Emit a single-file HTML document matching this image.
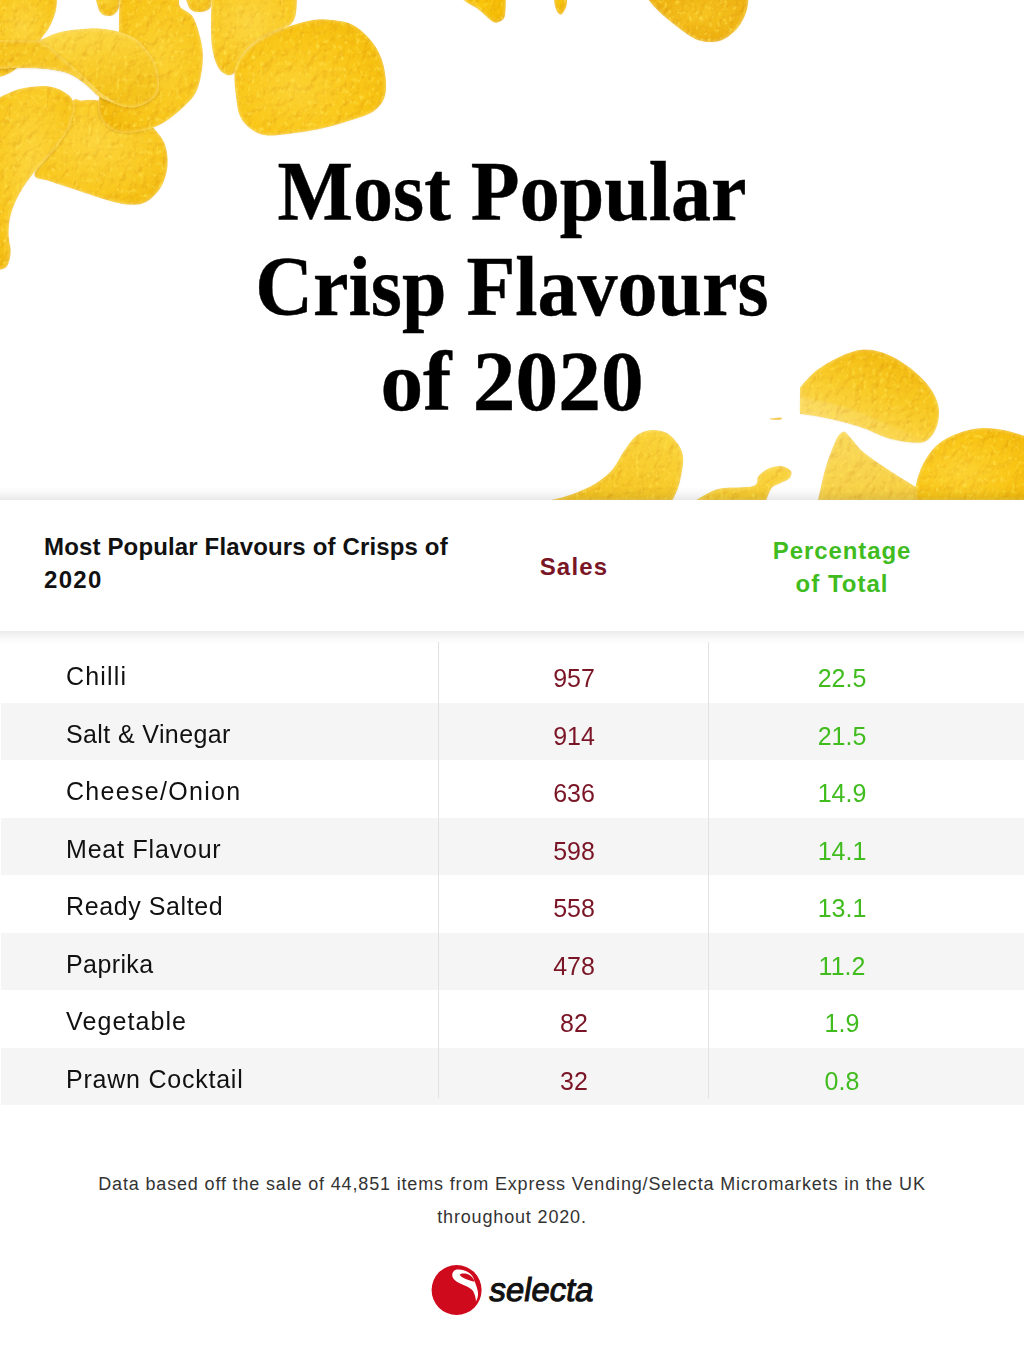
<!DOCTYPE html>
<html lang="en">
<head>
<meta charset="utf-8">
<title>Most Popular Crisp Flavours of 2020</title>
<style>
html,body{margin:0;padding:0;background:#fff;}
body{width:1024px;height:1365px;position:relative;overflow:hidden;font-family:"Liberation Sans",sans-serif;}
.hero{position:absolute;left:0;top:0;width:1024px;height:500px;overflow:hidden;}
.hero svg{position:absolute;left:0;top:0;}
h1{position:absolute;left:0;top:0;width:1024px;margin:0;text-align:center;font-family:"Liberation Serif",serif;font-weight:bold;color:#000;-webkit-text-stroke:0.4px #000;}
h1 span{position:absolute;left:0;width:1024px;text-align:center;white-space:nowrap;}
.shadow-top{position:absolute;left:0;top:487px;width:1024px;height:13px;background:linear-gradient(rgba(0,0,0,0),rgba(0,0,0,0.025) 40%,rgba(0,0,0,0.085));}
.shadow-bot{position:absolute;left:0;top:631px;width:1024px;height:13px;background:linear-gradient(rgba(0,0,0,0.075),rgba(0,0,0,0.025) 60%,rgba(0,0,0,0));}
.thead{position:absolute;left:0;top:500px;width:1024px;height:131px;background:#fff;}
.th1{position:absolute;left:44px;top:530px;letter-spacing:0.15px;font-weight:bold;font-size:24px;line-height:33px;color:#111;width:440px;}
.th2{position:absolute;left:474px;width:200px;top:550px;text-align:center;font-weight:bold;font-size:24px;line-height:33px;color:#7a1526;}
.th3{position:absolute;left:742px;width:200px;top:534px;text-align:center;font-weight:bold;font-size:24px;line-height:33px;color:#40bc1e;}
.row{position:absolute;left:1px;width:1023px;height:57.5px;}
.row.g{background:#f5f5f5;}
.row div{position:absolute;top:3px;line-height:57.5px;font-size:25px;}
.c1{left:65px;color:#111;}
.c2{margin-top:2px;left:473px;width:200px;text-align:center;color:#7a1526;}
.c3{margin-top:2px;left:741px;width:200px;text-align:center;color:#40bc1e;}
.vl{position:absolute;top:642px;width:1px;height:456px;background:#e2e2e2;}
.foot{position:absolute;left:0;width:1024px;text-align:center;font-size:18px;letter-spacing:0.84px;color:#333;line-height:33px;}
.logo{position:absolute;left:430px;top:1264px;}
</style>
</head>
<body>
<div class="hero">
<svg width="1024" height="500" viewBox="0 0 1024 500">
<defs>
<radialGradient id="g1" cx="45%" cy="40%" r="70%"><stop offset="0" stop-color="#fcd53c"/><stop offset="0.65" stop-color="#f9c920"/><stop offset="1" stop-color="#f3bc10"/></radialGradient>
<radialGradient id="g2" cx="50%" cy="30%" r="70%"><stop offset="0" stop-color="#fad02e"/><stop offset="1" stop-color="#f1b90e"/></radialGradient>
<radialGradient id="g3" cx="45%" cy="35%" r="75%"><stop offset="0" stop-color="#fcd640"/><stop offset="0.7" stop-color="#f9ca22"/><stop offset="1" stop-color="#f4c016"/></radialGradient>
<radialGradient id="g4" cx="60%" cy="45%" r="70%"><stop offset="0" stop-color="#fbd232"/><stop offset="0.7" stop-color="#f8c518"/><stop offset="1" stop-color="#f2b90a"/></radialGradient>
<linearGradient id="g5" x1="0" y1="0.2" x2="0.3" y2="1"><stop offset="0" stop-color="#fcd946"/><stop offset="0.5" stop-color="#f9cd2c"/><stop offset="1" stop-color="#f5c41c"/></linearGradient>
<radialGradient id="g6" cx="40%" cy="60%" r="75%"><stop offset="0" stop-color="#fcd232"/><stop offset="0.6" stop-color="#f9c616"/><stop offset="1" stop-color="#f3ba0a"/></radialGradient>
<radialGradient id="g7" cx="55%" cy="40%" r="70%"><stop offset="0" stop-color="#f7c520"/><stop offset="1" stop-color="#eaa90a"/></radialGradient>
<linearGradient id="g8" x1="0.2" y1="0.8" x2="0.7" y2="0"><stop offset="0" stop-color="#fbd850"/><stop offset="0.5" stop-color="#f8ca24"/><stop offset="1" stop-color="#f2b90c"/></linearGradient>
<linearGradient id="g9" x1="0.7" y1="0" x2="0.2" y2="1"><stop offset="0" stop-color="#fad43a"/><stop offset="1" stop-color="#f5c420"/></linearGradient>
<linearGradient id="g11" x1="0" y1="0" x2="1" y2="0.3"><stop offset="0" stop-color="#f6c41c"/><stop offset="1" stop-color="#f9cd2e"/></linearGradient>
<radialGradient id="g12" cx="50%" cy="40%" r="70%"><stop offset="0" stop-color="#fac80e"/><stop offset="1" stop-color="#f0b400"/></radialGradient>
<linearGradient id="g13" x1="0" y1="0" x2="1" y2="0"><stop offset="0" stop-color="#fce27a"/><stop offset="1" stop-color="#f9d24a"/></linearGradient>
<linearGradient id="g14" x1="0" y1="0" x2="0.4" y2="1"><stop offset="0" stop-color="#fadb5e"/><stop offset="1" stop-color="#f7d044"/></linearGradient>
<linearGradient id="g10" x1="0" y1="0" x2="0.3" y2="1"><stop offset="0" stop-color="#fbd84c"/><stop offset="1" stop-color="#f7cc2e"/></linearGradient>
<filter id="tex" x="0" y="0" width="1024" height="500" filterUnits="userSpaceOnUse" color-interpolation-filters="sRGB">
<feTurbulence type="fractalNoise" baseFrequency="0.12 0.09" numOctaves="3" seed="5" result="n"/>
<feDiffuseLighting in="n" lighting-color="#ffffff" surfaceScale="1.5" result="L"><feDistantLight azimuth="235" elevation="58"/></feDiffuseLighting>
<feColorMatrix in="L" type="matrix" values="0.2 0 0 0 0.83  0 0.42 0 0 0.64  0 0 0.9 0 0.25  0 0 0 0 1" result="M"/>
<feComposite in="M" in2="SourceGraphic" operator="arithmetic" k1="1" k2="0" k3="0" k4="0" result="lit"/>
<feTurbulence type="fractalNoise" baseFrequency="0.25 0.18" numOctaves="2" seed="11" result="n2"/>
<feColorMatrix in="n2" type="matrix" values="0 0 0 0 1  0 0 0 0 0.9  0 0 0 0 0.32  2.2 0 0 0 -1.25" result="hl"/>
<feMerge result="m"><feMergeNode in="lit"/><feMergeNode in="hl"/></feMerge>
<feComposite in="m" in2="SourceGraphic" operator="in"/>
</filter>
<filter id="sb" x="-10%" y="-20%" width="120%" height="140%"><feGaussianBlur stdDeviation="1.2"/></filter>
<filter id="cr" x="-10%" y="-10%" width="120%" height="120%" color-interpolation-filters="sRGB">
<feGaussianBlur in="SourceAlpha" stdDeviation="2" result="b"/>
<feComposite in="SourceAlpha" in2="b" operator="out" result="ring"/>
<feFlood flood-color="#fde69e" flood-opacity="0.85"/>
<feComposite in2="ring" operator="in" result="glow"/>
<feGaussianBlur in="SourceAlpha" stdDeviation="1.5" result="sb"/>
<feOffset in="sb" dy="1" result="so"/>
<feFlood flood-color="#a87000" flood-opacity="0.3"/>
<feComposite in2="so" operator="in" result="shadow"/>
<feMerge><feMergeNode in="shadow"/><feMergeNode in="SourceGraphic"/><feMergeNode in="glow"/></feMerge>
</filter>
</defs>
<g filter="url(#tex)">
<path d="M-5.0,-5.0C-5.0,-5.0 57.0,-5.0 57.0,-5.0C57.0,-5.0 57.2,4.8 56.0,10.0C54.8,15.2 52.5,21.2 50.0,26.0C47.5,30.8 44.3,34.7 41.0,39.0C37.7,43.3 33.7,47.5 30.0,52.0C26.3,56.5 22.7,62.3 19.0,66.0C15.3,69.7 12.0,72.0 8.0,74.0C4.0,76.0 -5.0,78.0 -5.0,78.0C-5.0,78.0 -5.0,-5.0 -5.0,-5.0Z" fill="url(#g1)" filter="url(#cr)"/>
<path d="M95.0,-5.0C95.0,-5.0 120.0,-5.0 120.0,-5.0C120.0,-5.0 119.7,6.5 118.0,10.0C116.3,13.5 113.0,15.7 110.0,16.0C107.0,16.3 102.5,15.5 100.0,12.0C97.5,8.5 95.0,-5.0 95.0,-5.0Z" fill="url(#g2)" filter="url(#cr)"/>
<path d="M185.0,-5.0C185.0,-5.0 212.0,-5.0 212.0,-5.0C212.0,-5.0 212.0,5.2 210.0,8.0C208.0,10.8 203.3,11.8 200.0,12.0C196.7,12.2 192.5,11.8 190.0,9.0C187.5,6.2 185.0,-5.0 185.0,-5.0Z" fill="url(#g2)" filter="url(#cr)"/>
<path d="M212.0,-5.0C212.0,-5.0 297.0,-5.0 297.0,-5.0C297.0,-5.0 297.0,8.2 296.0,13.0C295.0,17.8 294.5,20.8 291.0,24.0C287.5,27.2 281.0,28.8 275.0,32.0C269.0,35.2 260.5,39.0 255.0,43.0C249.5,47.0 245.3,51.2 242.0,56.0C238.7,60.8 237.5,68.8 235.0,72.0C232.5,75.2 229.9,75.9 227.0,75.0C224.1,74.1 220.1,71.3 217.6,66.6C215.1,61.9 213.1,54.6 212.0,47.0C210.9,39.4 211.0,29.7 211.0,21.0C211.0,12.3 212.0,-5.0 212.0,-5.0Z" fill="url(#g3)" filter="url(#cr)"/>
<path d="M71.0,103.6C76.3,95.3 76.9,100.9 81.6,100.4C86.3,99.9 93.9,99.1 99.0,100.4C104.1,101.7 106.8,104.7 112.0,108.0C117.2,111.3 123.7,116.8 130.0,120.0C136.3,123.2 145.8,125.4 150.0,127.0C154.2,128.6 152.5,126.5 155.0,129.4C157.5,132.3 162.9,138.3 165.0,144.4C167.1,150.5 168.2,158.9 167.5,166.0C166.8,173.1 164.6,181.0 161.0,187.0C157.4,193.0 151.3,199.1 146.0,202.0C140.7,204.9 135.5,204.9 129.0,204.6C122.5,204.3 116.0,202.5 107.0,200.0C98.0,197.5 84.6,192.7 75.0,189.5C65.4,186.3 56.2,183.5 49.4,181.0C42.6,178.5 34.3,179.7 34.4,174.5C34.5,169.3 43.9,161.8 50.0,150.0C56.1,138.2 65.7,111.9 71.0,103.6Z" fill="url(#g1)" filter="url(#cr)"/>
<path d="M120.0,-5.0C120.0,-5.0 180.0,-5.0 180.0,-5.0C180.0,-5.0 177.8,2.7 180.0,6.4C182.2,10.1 189.4,10.9 193.0,17.0C196.6,23.1 199.9,35.1 201.5,43.0C203.1,50.9 203.2,56.6 202.5,64.4C201.8,72.2 200.0,83.1 197.0,90.0C194.0,96.9 190.4,100.3 184.7,105.8C179.0,111.3 170.5,118.7 163.0,123.0C155.5,127.3 147.4,130.1 139.6,131.5C131.8,132.9 122.4,133.6 116.0,131.5C109.6,129.4 103.9,124.1 101.0,118.7C98.1,113.3 97.3,106.6 98.8,99.3C100.3,92.0 106.8,84.9 110.0,75.0C113.2,65.1 116.5,50.0 118.0,40.0C119.5,30.0 118.7,22.5 119.0,15.0C119.3,7.5 120.0,-5.0 120.0,-5.0Z" fill="url(#g4)" filter="url(#cr)"/>
<path d="M-5.0,41.0C-5.0,41.0 13.1,41.3 20.0,41.5C26.9,41.7 32.7,42.5 36.5,42.0C40.3,41.5 39.1,40.4 43.0,38.7C46.9,37.0 53.6,33.6 60.0,32.0C66.4,30.4 74.9,29.6 81.6,29.0C88.3,28.4 93.6,28.0 100.0,28.5C106.4,29.0 114.0,30.2 120.0,32.0C126.0,33.8 131.7,36.2 136.0,39.0C140.3,41.8 142.8,45.0 146.0,49.0C149.2,53.0 152.8,57.6 155.0,63.0C157.2,68.4 158.7,76.4 159.0,81.6C159.3,86.8 158.5,90.8 157.0,94.0C155.5,97.2 152.8,99.0 150.0,101.0C147.2,103.0 143.5,104.9 140.0,106.0C136.5,107.1 133.2,107.8 129.0,107.5C124.8,107.2 119.8,105.8 115.0,104.0C110.2,102.2 104.2,99.7 100.0,97.0C95.8,94.3 93.7,91.1 90.0,88.0C86.3,84.9 82.2,81.2 78.0,78.5C73.8,75.8 69.5,73.6 64.5,72.0C59.5,70.4 53.4,69.7 48.0,69.0C42.6,68.3 37.5,68.2 32.0,68.0C26.5,67.8 21.2,67.8 15.0,68.0C8.8,68.2 -5.0,69.0 -5.0,69.0C-5.0,69.0 -5.0,41.0 -5.0,41.0Z" fill="url(#g5)" filter="url(#cr)"/>
<path d="M-5.0,40.0C-5.0,40.0 12.2,40.2 20.0,40.5C27.8,40.8 35.3,39.4 42.0,42.0C48.7,44.6 53.7,50.8 60.0,56.0C66.3,61.2 73.3,67.0 80.0,73.0C86.7,79.0 94.3,87.2 100.0,92.0C105.7,96.8 114.0,101.2 114.0,102.0C114.0,102.8 104.0,99.3 100.0,97.0C96.0,94.7 93.7,91.1 90.0,88.0C86.3,84.9 82.2,81.2 78.0,78.5C73.8,75.8 69.5,73.6 64.5,72.0C59.5,70.4 53.4,69.7 48.0,69.0C42.6,68.3 37.5,68.2 32.0,68.0C26.5,67.8 21.2,67.8 15.0,68.0C8.8,68.2 -5.0,69.0 -5.0,69.0C-5.0,69.0 -5.0,40.0 -5.0,40.0Z" fill="url(#g11)" filter="url(#cr)"/>
<path d="M-5.0,99.0C-5.0,99.0 -4.4,98.7 0.0,97.0C4.4,95.3 13.3,90.4 21.5,88.6C29.7,86.8 41.5,85.3 49.4,86.4C57.3,87.5 64.4,91.4 68.7,95.0C73.0,98.6 74.5,104.2 75.0,108.0C75.5,111.8 73.0,114.5 72.0,118.0C71.0,121.5 71.8,123.5 68.7,129.0C65.7,134.5 59.4,143.8 53.7,151.0C48.0,158.2 40.1,164.8 34.4,172.0C28.7,179.2 23.2,186.8 19.3,194.0C15.4,201.2 12.5,208.2 10.7,215.0C8.9,221.8 8.6,228.5 8.6,234.7C8.6,240.9 11.1,246.6 10.7,252.0C10.3,257.4 9.0,264.0 6.4,267.0C3.8,270.0 -5.0,270.0 -5.0,270.0C-5.0,270.0 -5.0,99.0 -5.0,99.0Z" fill="url(#g1)" filter="url(#cr)"/>
<path d="M234.8,70.9C233.8,77.3 234.9,87.0 235.8,94.5C236.7,102.0 237.5,110.2 240.0,116.0C242.5,121.8 246.7,125.8 251.0,129.0C255.3,132.2 259.9,134.5 266.0,135.3C272.1,136.1 278.5,135.1 287.4,134.0C296.3,132.9 308.9,131.3 319.6,129.0C330.3,126.7 342.9,122.9 351.8,120.0C360.7,117.1 367.6,115.2 373.0,111.7C378.4,108.2 381.8,103.8 384.0,98.8C386.2,93.8 386.3,88.1 386.0,81.6C385.7,75.1 384.2,66.4 382.0,60.0C379.8,53.6 377.0,48.3 373.0,43.0C369.0,37.7 363.0,31.6 358.0,28.0C353.0,24.4 349.4,22.9 343.0,21.5C336.6,20.1 327.1,18.9 319.6,19.3C312.1,19.7 305.5,21.5 298.0,23.6C290.5,25.7 281.7,28.8 274.5,32.0C267.3,35.2 260.4,39.0 255.0,43.0C249.6,47.0 245.4,51.4 242.0,56.0C238.6,60.6 235.8,64.5 234.8,70.9Z" fill="url(#g6)" filter="url(#cr)"/>
<path d="M645.0,-5.0C645.0,-5.0 749.0,-5.0 749.0,-5.0C749.0,-5.0 748.9,-3.0 748.4,0.0C747.9,3.0 747.8,8.3 746.0,13.0C744.2,17.7 741.1,23.7 737.6,28.0C734.1,32.3 729.0,36.4 724.7,38.7C720.4,41.0 716.8,41.9 711.8,41.9C706.8,41.9 701.2,41.8 694.7,38.7C688.2,35.7 679.5,28.6 673.0,23.6C666.5,18.6 660.7,13.4 656.0,8.6C651.3,3.8 645.0,-5.0 645.0,-5.0Z" fill="url(#g7)" filter="url(#cr)"/>
<path d="M458.0,-5.0C458.0,-5.0 506.0,-5.0 506.0,-5.0C506.0,-5.0 505.9,4.4 505.6,8.2C505.3,12.0 505.4,15.5 504.3,17.8C503.2,20.1 500.6,21.2 498.8,21.9C497.0,22.6 495.4,22.8 493.3,21.9C491.2,21.0 489.2,18.7 486.5,16.4C483.8,14.1 480.1,10.5 476.9,8.2C473.7,5.9 470.4,4.9 467.3,2.7C464.2,0.5 458.0,-5.0 458.0,-5.0Z" fill="url(#g12)" filter="url(#cr)"/>
<path d="M554.0,-3.0C554.0,-3.0 567.0,-3.0 567.0,-3.0C567.0,-3.0 567.3,3.2 566.5,6.0C565.7,8.8 563.4,12.8 562.0,14.0C560.6,15.2 559.2,14.3 558.0,13.0C556.8,11.7 555.7,8.7 555.0,6.0C554.3,3.3 554.0,-3.0 554.0,-3.0Z" fill="url(#g12)" filter="url(#cr)"/>
<path d="M800.0,387.7C800.0,387.7 809.1,376.2 815.7,371.0C822.3,365.8 831.7,360.3 839.6,356.7C847.5,353.1 855.5,349.9 863.4,349.5C871.3,349.1 879.3,351.1 887.2,354.3C895.1,357.5 903.9,363.0 911.0,368.6C918.1,374.2 925.4,381.4 930.0,387.7C934.6,394.0 937.3,400.3 938.5,406.7C939.7,413.1 938.8,420.2 937.0,425.8C935.2,431.4 931.6,437.2 927.7,440.0C923.8,442.8 920.2,442.9 913.4,442.5C906.6,442.1 895.3,440.1 887.0,437.7C878.7,435.3 871.3,430.8 863.4,428.0C855.5,425.2 847.5,423.0 839.6,421.0C831.7,419.0 822.3,417.2 815.7,416.0C809.1,414.8 800.0,414.0 800.0,414.0C800.0,414.0 800.0,387.7 800.0,387.7Z" fill="url(#g8)" filter="url(#cr)"/>
<path d="M800.0,397.0C800.0,397.0 808.3,398.5 815.0,400.0C821.7,401.5 832.0,403.7 840.0,406.0C848.0,408.3 855.2,411.0 863.0,414.0C870.8,417.0 878.8,420.5 887.0,424.0C895.2,427.5 905.5,432.2 912.0,435.0C918.5,437.8 925.8,439.2 926.0,440.5C926.2,441.8 919.5,443.0 913.0,442.5C906.5,442.0 895.3,440.1 887.0,437.7C878.7,435.3 870.9,430.8 863.0,428.0C855.1,425.2 847.5,423.0 839.6,421.0C831.7,419.0 822.3,417.2 815.7,416.0C809.1,414.8 800.0,414.0 800.0,414.0C800.0,414.0 800.0,397.0 800.0,397.0Z" fill="url(#g13)" fill-opacity="0.55" filter="url(#sb)"/>
<path d="M545.0,501.0C545.0,501.0 557.3,499.0 565.0,496.5C572.7,494.0 583.3,490.2 591.0,486.0C598.7,481.8 605.5,476.8 611.0,471.0C616.5,465.2 619.8,456.9 624.0,451.0C628.2,445.1 631.9,439.0 636.5,435.5C641.1,432.0 646.6,430.4 651.7,430.0C656.8,429.6 662.6,430.7 667.0,433.0C671.4,435.3 675.3,440.2 678.0,444.0C680.7,447.8 682.3,451.5 683.0,456.0C683.7,460.5 682.8,465.7 682.0,471.0C681.2,476.3 679.7,483.0 678.0,488.0C676.3,493.0 672.0,501.0 672.0,501.0C672.0,501.0 545.0,501.0 545.0,501.0Z" fill="url(#g9)" filter="url(#cr)"/>
<path d="M695.0,501.0C695.0,501.0 708.1,491.5 717.8,489.0C727.5,486.5 746.2,488.2 753.0,486.0C759.8,483.8 755.8,478.9 758.4,476.0C761.0,473.1 764.7,470.2 768.5,468.5C772.3,466.8 777.2,465.6 781.0,466.0C784.8,466.4 789.7,468.9 791.0,471.0C792.3,473.1 791.5,476.4 789.0,478.7C786.5,481.0 779.0,483.3 776.0,485.0C773.0,486.7 772.7,486.3 771.0,489.0C769.3,491.7 766.0,501.0 766.0,501.0C766.0,501.0 695.0,501.0 695.0,501.0Z" fill="url(#g10)" filter="url(#cr)"/>
<path d="M818.0,501.0C818.0,501.0 822.2,479.8 825.0,470.0C827.8,460.2 832.0,448.4 835.0,442.0C838.0,435.6 840.5,432.5 843.0,431.7C845.5,430.9 846.6,433.6 850.0,437.0C853.4,440.4 857.2,446.7 863.4,452.0C869.6,457.3 878.7,463.1 887.0,468.7C895.3,474.3 905.8,480.6 913.4,485.4C921.0,490.2 928.9,494.7 932.5,497.3C936.1,499.9 935.0,501.0 935.0,501.0C935.0,501.0 818.0,501.0 818.0,501.0Z" fill="url(#g14)" filter="url(#cr)"/>
<path d="M915.8,501.0C915.8,501.0 914.6,491.6 915.8,485.4C917.0,479.2 919.5,470.8 923.0,464.0C926.5,457.2 931.0,450.1 937.0,444.9C943.0,439.7 951.1,435.8 958.7,433.0C966.3,430.2 974.7,428.4 982.6,428.0C990.5,427.6 998.1,428.9 1006.0,430.5C1013.9,432.1 1030.0,437.7 1030.0,437.7C1030.0,437.7 1030.0,501.0 1030.0,501.0C1030.0,501.0 915.8,501.0 915.8,501.0Z" fill="url(#g6)" filter="url(#cr)"/>
<path d="M771.0,418.3C772.7,418.0 779.3,417.3 781.0,417.5C782.7,417.7 782.7,419.2 781.0,419.5C779.3,419.8 772.7,419.7 771.0,419.5C769.3,419.3 769.3,418.6 771.0,418.3Z" fill="url(#g2)" filter="url(#cr)"/>
</g>
</svg>
</div>
<h1>
<span style="top:150px;font-size:80px;line-height:95px;transform-origin:512px 73px;transform:translateY(-4px) scaleY(1.058);">Most Popular</span>
<span style="top:245px;font-size:80px;line-height:95px;transform-origin:512px 73px;transform:translateY(-4px) scaleY(1.058);">Crisp Flavours</span>
<span style="top:340px;font-size:80px;line-height:95px;transform-origin:512px 73px;transform:translateY(-4px) scale(1.067,1.058);">of 2020</span>
</h1>
<div class="shadow-top"></div>
<div class="thead"></div>
<div class="shadow-bot"></div>
<div class="th1">Most Popular Flavours of Crisps of<br><span style="letter-spacing:1.3px">2020</span></div>
<div class="th2" style="letter-spacing:1.2px">Sales</div>
<div class="th3"><span style="letter-spacing:0.9px">Percentage</span><br><span style="letter-spacing:1px">of Total</span></div>

<div class="row" style="top:645px"><div class="c1" style="letter-spacing:1.2px">Chilli</div><div class="c2">957</div><div class="c3">22.5</div></div>
<div class="row g" style="top:702.5px"><div class="c1" style="letter-spacing:0.38px">Salt &amp; Vinegar</div><div class="c2">914</div><div class="c3">21.5</div></div>
<div class="row" style="top:760px"><div class="c1" style="letter-spacing:1.3px">Cheese/Onion</div><div class="c2">636</div><div class="c3">14.9</div></div>
<div class="row g" style="top:817.5px"><div class="c1" style="letter-spacing:0.8px">Meat Flavour</div><div class="c2">598</div><div class="c3">14.1</div></div>
<div class="row" style="top:875px"><div class="c1" style="letter-spacing:0.6px">Ready Salted</div><div class="c2">558</div><div class="c3">13.1</div></div>
<div class="row g" style="top:932.5px"><div class="c1" style="letter-spacing:0.4px">Paprika</div><div class="c2">478</div><div class="c3">11.2</div></div>
<div class="row" style="top:990px"><div class="c1" style="letter-spacing:1.1px">Vegetable</div><div class="c2">82</div><div class="c3">1.9</div></div>
<div class="row g" style="top:1047.5px"><div class="c1" style="letter-spacing:0.77px">Prawn Cocktail</div><div class="c2">32</div><div class="c3">0.8</div></div>
<div class="vl" style="left:438px"></div>
<div class="vl" style="left:708px"></div>

<div class="foot" style="top:1168px">Data based off the sale of 44,851 items from Express Vending/Selecta Micromarkets in the UK</div>
<div class="foot" style="top:1201px">throughout 2020.</div>

<div class="logo">
<svg width="170" height="56" viewBox="0 0 170 56">
<circle cx="26.6" cy="26" r="25" fill="#cf0a1c"/>
<path d="M22.6,13.2 C21.5,10 23,6.5 26.5,5.6 C31,4.8 36.5,6.5 40,9.5 C42.5,11.8 44,14 44.2,16.5 C45.5,19.5 47,23 47.8,27.5 C48.5,31.5 47.5,35 46,37.5 C45.8,34 45,30.5 43,27 C40.5,23.5 35,21.5 30.8,19.7 C27,18 24,16 22.6,13.2 Z" fill="#fff"/>
<path d="M29.6,10.8 C31,9.2 34,9.2 36.5,9.8 C39.5,10.6 42,12.5 43.5,15 C44,16 44.3,17 44.3,17.8 C42,17.2 39.5,16.6 37,15.6 C34,14.4 31,12.8 29.6,10.8 Z" fill="#cf0a1c"/>
<g transform="translate(58,37) skewX(-9)"><text x="0" y="0" font-family="Liberation Sans, sans-serif" font-size="33" letter-spacing="-0.05" fill="#111" stroke="#111" stroke-width="1">selecta</text></g>
</svg>
</div>
</body>
</html>
